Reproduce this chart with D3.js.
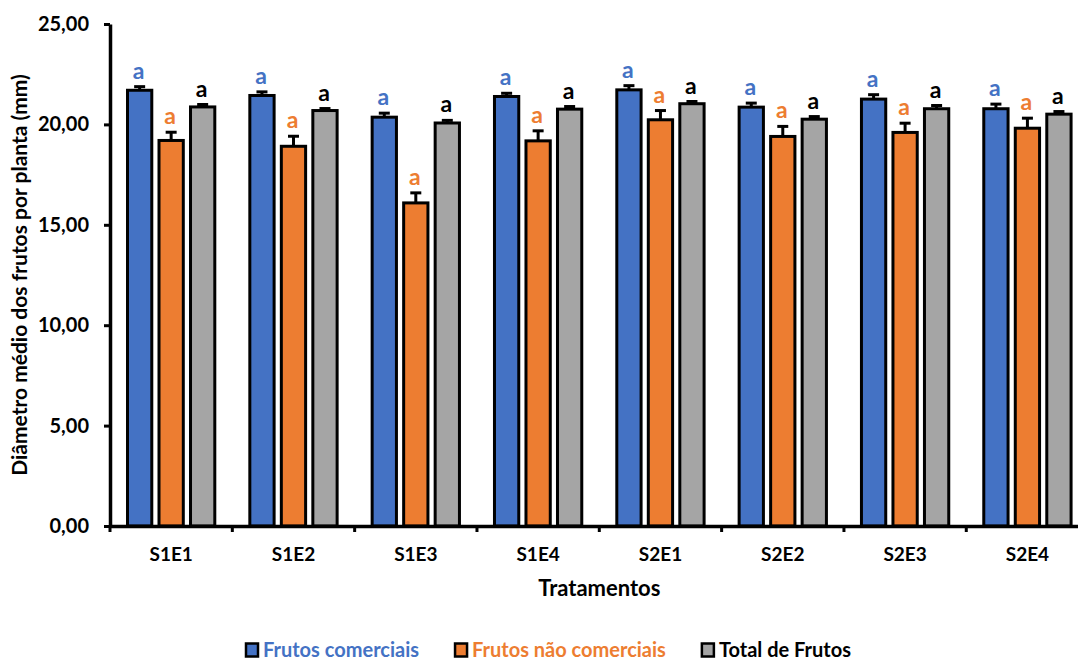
<!DOCTYPE html>
<html>
<head>
<meta charset="utf-8">
<script src="https://cdn.jsdelivr.net/npm/d3@7"></script>
<style>
  html, body { margin: 0; padding: 0; background: #fff; }
  svg { display: block; font-family: Lato, "Open Sans", sans-serif; }
</style>
</head>
<body>
<svg id="chart" width="1078" height="661"></svg>
<script>
const categories = ["S1E1", "S1E2", "S1E3", "S1E4", "S2E1", "S2E2", "S2E3", "S2E4"];
const seriesNames = ["Frutos comerciais", "Frutos não comerciais", "Total de Frutos"];
const comerciais      = [21.70, 21.44, 20.36, 21.39, 21.72, 20.86, 21.26, 20.78];
const naoComerciais   = [19.20, 18.91, 16.09, 19.18, 20.23, 19.40, 19.60, 19.81];
const totalFrutos     = [20.87, 20.69, 20.07, 20.76, 21.03, 20.26, 20.78, 20.51];
const errComerciais    = [0.18, 0.18, 0.20, 0.16, 0.21, 0.20, 0.22, 0.23];
const errNaoComerciais = [0.41, 0.50, 0.50, 0.50, 0.46, 0.50, 0.46, 0.50];
const errTotal         = [0.12, 0.10, 0.13, 0.13, 0.11, 0.13, 0.16, 0.13];
const letters = [
  ["a","a","a","a","a","a","a","a"],
  ["a","a","a","a","a","a","a","a"],
  ["a","a","a","a","a","a","a","a"]
];
const yTicks = [0, 5, 10, 15, 20, 25];
const colors = ["#4472C4", "#ED7D31", "#A5A5A5"];
const letterColors = ["#4472C4", "#ED7D31", "#000000"];
const legendTextColors = ["#4472C4", "#ED7D31", "#000000"];

const values = [comerciais, naoComerciais, totalFrutos];
const errors = [errComerciais, errNaoComerciais, errTotal];

const svg = d3.select("#chart");
const plotLeft = 110, plotRight = 1088.6, plotTop = 24, plotBottom = 526;

const locale = d3.formatLocale({decimal: ",", thousands: ".", grouping: [3], currency: ["R$", ""]});
const fmt = locale.format(".2f");

const x0 = d3.scaleBand().domain(categories).range([plotLeft, plotRight]).paddingInner(0).paddingOuter(0);
const x1 = d3.scaleBand().domain(d3.range(3)).range([17.5, 104.8]).paddingInner(0.229).paddingOuter(0);
const y = d3.scaleLinear().domain([0, 25]).range([plotBottom, plotTop]);

const rows = [];
categories.forEach((c, i) => {
  for (let s = 0; s < 3; s++) rows.push({c, i, s, v: values[s][i], e: errors[s][i], l: letters[s][i]});
});

const g = svg.append("g");
const cx = d => x0(d.c) + x1(d.s) + x1.bandwidth() / 2;

// Error bars
const eb = g.selectAll("g.err").data(rows).join("g").attr("class", "err");
eb.append("line")
  .attr("x1", cx).attr("x2", cx)
  .attr("y1", d => y(d.v)).attr("y2", d => y(d.v + d.e))
  .attr("stroke", "#000").attr("stroke-width", 3);
eb.append("line")
  .attr("x1", d => cx(d) - 5.5).attr("x2", d => cx(d) + 5.5)
  .attr("y1", d => y(d.v + d.e)).attr("y2", d => y(d.v + d.e))
  .attr("stroke", "#000").attr("stroke-width", 3);

// Bars
g.selectAll("rect.bar").data(rows).join("rect").attr("class", "bar")
  .attr("x", d => x0(d.c) + x1(d.s))
  .attr("width", x1.bandwidth())
  .attr("y", d => y(d.v))
  .attr("height", d => y(0) - y(d.v))
  .attr("fill", d => colors[d.s])
  .attr("stroke", "#000").attr("stroke-width", 3);

// Letters
g.selectAll("text.lt").data(rows).join("text").attr("class", "lt")
  .attr("x", d => cx(d) - 1)
  .attr("y", d => y(d.v + d.e) - 8)
  .attr("text-anchor", "middle")
  .attr("font-size", 23).attr("font-weight", "bold")
  .attr("fill", d => letterColors[d.s])
  .text(d => d.l);

// Y axis
const yAxis = svg.append("g").attr("transform", `translate(${plotLeft},0)`)
  .call(d3.axisLeft(y).tickValues(yTicks).tickFormat(fmt).tickSize(6).tickSizeOuter(0).tickPadding(15));
yAxis.select(".domain").attr("stroke", "#000").attr("stroke-width", 3.5);
yAxis.selectAll(".tick line").attr("stroke", "#000").attr("stroke-width", 3);
yAxis.selectAll(".tick text").attr("font-size", 20).attr("font-weight", "bold").attr("fill", "#000")
  .attr("font-family", "Lato, sans-serif");

// X axis
const xAxis = svg.append("g").attr("transform", `translate(0,${plotBottom})`)
  .call(d3.axisBottom(x0).tickSize(0).tickPadding(22).tickSizeOuter(0));
xAxis.select(".domain").attr("stroke", "#000").attr("stroke-width", 3.5);
xAxis.selectAll(".tick text").attr("font-size", 19).attr("font-weight", "bold").attr("fill", "#000")
  .attr("font-family", "Lato, sans-serif");
xAxis.selectAll("line.bound").data(categories).join("line").attr("class", "bound")
  .attr("x1", d => x0(d)).attr("x2", d => x0(d))
  .attr("y1", 0).attr("y2", 6)
  .attr("stroke", "#000").attr("stroke-width", 3);

// Axis titles
svg.append("text")
  .attr("x", (plotLeft + plotRight) / 2).attr("y", 596)
  .attr("text-anchor", "middle")
  .attr("font-size", 22).attr("font-weight", "bold").attr("fill", "#000")
  .text("Tratamentos");

svg.append("text")
  .attr("transform", `translate(27,${(plotBottom + plotTop) / 2}) rotate(-90)`)
  .attr("text-anchor", "middle")
  .attr("font-size", 21).attr("font-weight", "bold").attr("fill", "#000")
  .text("Diâmetro médio dos frutos por planta (mm)");

// Legend
const legend = svg.append("g").attr("transform", "translate(245,650)");
let lx = 0;
seriesNames.forEach((name, s) => {
  const item = legend.append("g").attr("transform", `translate(${lx},0)`);
  item.append("rect").attr("x", 1).attr("y", -6.5).attr("width", 12).attr("height", 13)
    .attr("fill", colors[s]).attr("stroke", "#000").attr("stroke-width", 2.5);
  const t = item.append("text").attr("x", 18).attr("y", 7)
    .attr("font-size", 20).attr("font-weight", "bold").attr("fill", legendTextColors[s])
    .text(name);
  const w = t.node().getComputedTextLength();
  lx += 18 + w + 35;
});
</script>
</body>
</html>
